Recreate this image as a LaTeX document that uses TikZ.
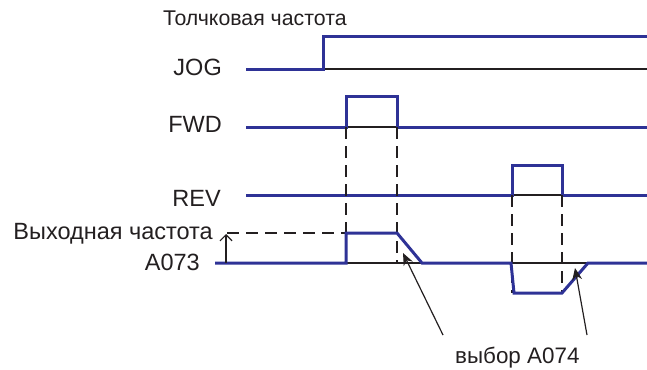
\documentclass[tikz,border=0pt]{standalone}
\usepackage{fontspec}
\setmainfont{Liberation Sans}
\usetikzlibrary{positioning,arrows.meta}
\definecolor{sigblue}{RGB}{46,50,150}
\definecolor{inkgray}{RGB}{35,31,32}

\begin{document}
\begin{tikzpicture}[x=1pt,y=-1pt,
  sig/.style={sigblue,line width=3pt},
  base/.style={inkgray,line width=1.2pt},
  guide/.style={inkgray,line width=1.2pt,dash pattern=on 12pt off 7pt},
  lbl/.style={text=inkgray,font=\fontsize{23.5}{28}\selectfont,inner sep=0pt},
  note/.style={text=inkgray,font=\fontsize{21.3}{26}\selectfont,inner sep=0pt}]
\useasboundingbox (0,0) rectangle (647,369);
% Labels
\node[note,anchor=base west] (title) at (163,26) {Толчковая частота};
\node[lbl,anchor=base east] (jog) at (222,75) {JOG};
\node[lbl,anchor=base east] (fwd) at (222,132) {FWD};
\node[lbl,anchor=base east] (rev) at (221,206) {REV};
\node[lbl,anchor=base east] (outf) at (213,239) {Выходная частота};
\node[lbl,anchor=base east] (a73) at (200,270) {A073};
\node[note,anchor=base west,font=\fontsize{22.4}{26}\selectfont] (sel) at (455,363) {выбор A074};
% JOG signal
\draw[base] (323,69) -- (647,69);
\draw[sig] (246,69) -- (323,69) -- (323,37) -- (647,37);
% FWD signal
\draw[base] (346,127) -- (397,127);
\draw[sig] (246,127) -- (346,127) -- (346,96) -- (397,96) -- (397,127) -- (647,127);
% REV signal
\draw[base] (512,195) -- (562,195);
\draw[sig] (246,195) -- (512,195) -- (512,165) -- (562,165) -- (562,195) -- (647,195);
% Guides
\draw[guide] (346,127) -- (346,263);
\draw[guide] (397,127) -- (397,263);
\draw[guide] (512,195) -- (512,293);
\draw[guide] (562,195) -- (562,293);
\draw[guide] (227,233) -- (346,233);
% Output frequency
\draw[base] (346,263) -- (422,263);
\draw[base] (512,263) -- (588,263);
\draw[sig] (215,263) -- (346,263) -- (346,233) -- (397,233) -- (422,263) -- (511,263)
  -- (514,293) -- (562,293) -- (588,263) -- (647,263);
\coordinate (f0) at (226,263);
\coordinate (f1) at (226,234);
\draw[base,-{Straight Barb[length=6pt,width=12pt]}] (f0) -- (f1);
% Deceleration pointers
\coordinate (tail1) at (443,335);
\coordinate (ramp1) at (403,253);
\coordinate (tail2) at (587,335);
\coordinate (ramp2) at (575,268);
\draw[base,-{Stealth[length=12pt,width=10pt]}] (tail1) -- (ramp1);
\draw[base,-{Stealth[length=12pt,width=10pt]}] (tail2) -- (ramp2);
\end{tikzpicture}
\end{document}
